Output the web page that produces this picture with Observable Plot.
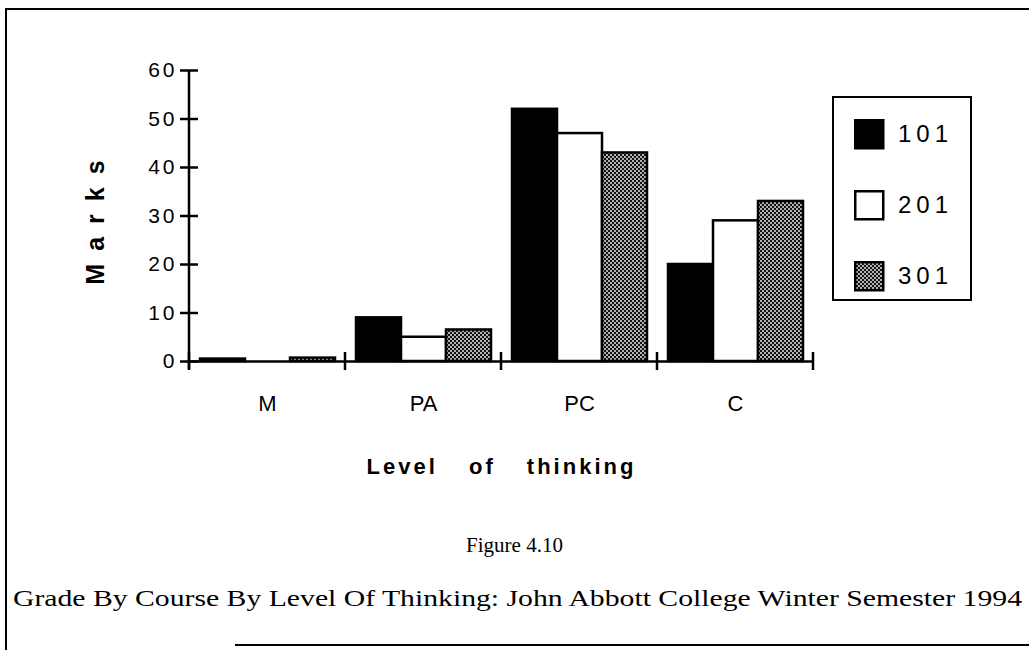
<!DOCTYPE html>
<html><head><meta charset="utf-8">
<script src="https://cdn.jsdelivr.net/npm/d3@7"></script>
<script src="https://cdn.jsdelivr.net/npm/@observablehq/plot@0.6"></script>
<style>
html,body{margin:0;padding:0;background:#fff;}
#page{position:relative;width:1029px;height:650px;overflow:hidden;background:#fff;}
#frame{position:absolute;left:5px;top:8px;width:1100px;height:700px;border-left:2px solid #000;border-top:2px solid #000;}
#bottomline{position:absolute;left:235px;top:644px;width:800px;height:0;border-top:2px solid #000;}
#chart{position:absolute;left:0;top:0;}
#legend{position:absolute;left:832px;top:96px;width:140px;height:205px;border:2.5px solid #000;box-sizing:border-box;background:#fff;}
.item{position:absolute;left:20px;height:30px;display:flex;align-items:center;font-family:"Liberation Sans",Arial,sans-serif;font-size:24px;letter-spacing:5px;color:#000;}
.item svg{margin-right:13px;}
#fig{position:absolute;top:533px;left:0;width:1029px;text-align:center;font-family:"Liberation Serif",serif;font-size:21px;color:#000;}
#cap{position:absolute;top:585px;left:13px;white-space:nowrap;font-family:"Liberation Serif",serif;font-size:24px;color:#000;transform-origin:0 0;}
#chart svg g[aria-label="y-axis tick label"] text{font-size:21px !important;letter-spacing:3px;}
#chart svg g[aria-label="fx-axis tick label"] text{font-size:22px !important;}
</style>
</head><body>
<svg width="0" height="0" style="position:absolute">
  <defs>
    <pattern id="stipple" width="4" height="4" patternUnits="userSpaceOnUse">
      <rect width="4" height="4" fill="#111"/>
      <circle cx="1" cy="1" r="0.9" fill="#fff"/>
      <circle cx="3" cy="3" r="0.9" fill="#fff"/>
    </pattern>
  </defs>
</svg>
<div id="page">
  <div id="frame"></div>
  <div id="bottomline"></div>
  <div id="chart"></div>
  <div id="legend"></div>
  <div id="fig">Figure 4.10</div>
  <div id="cap">Grade By Course By Level Of Thinking: John Abbott College Winter Semester 1994</div>
</div>
<script>
const levels = ["M", "PA", "PC", "C"];
const courses = ["101", "201", "301"];
const course101 = [0.5, 9, 52, 20];
const course201 = [0, 5, 47, 29];
const course301 = [0.7, 6.5, 43, 33];
const yTicks = [0, 10, 20, 30, 40, 50, 60];
const courseFills = ["#000", "#fff", "url(#stipple)"];

const series = [course101, course201, course301];
const data = levels.flatMap((level, i) => courses.map((course, j) => ({level, course, value: series[j][i]})));

const chart = Plot.plot({
  width: 1029, height: 480,
  marginLeft: 189, marginRight: 216, marginTop: 70, marginBottom: 119,
  style: {background: "transparent", fontFamily: "'Liberation Sans', Arial, sans-serif", color: "#000", overflow: "visible"},
  fx: {domain: levels, padding: 0},
  x: {domain: courses, paddingInner: 0, paddingOuter: 0.23, axis: null},
  y: {domain: [0, 60]},
  color: {domain: courses, range: courseFills},
  marks: [
    Plot.barY(data, {fx: "level", x: "course", y: "value", fill: "course", stroke: "#000", strokeWidth: 2.5}),
    Plot.ruleY([0], {stroke: "#000", strokeWidth: 2.5}),
    Plot.axisY({ticks: yTicks, tickSize: 18, dx: 9, tickPadding: 3, tickFormat: d => String(d), strokeWidth: 2.5,
      label: "Marks", labelAnchor: "center", labelArrow: "none", labelOffset: 103}),
    Plot.axisFx({anchor: "bottom", tickSize: 0, tickPadding: 34, label: "Level of thinking", labelAnchor: "center", labelArrow: "none", labelOffset: 112})
  ]
});
document.getElementById("chart").appendChild(chart);

const svg = d3.select(chart);
svg.selectAll('g[aria-label="y-axis tick label"] text').attr("font-size", 21);
svg.selectAll('g[aria-label="fx-axis tick label"] text').attr("font-size", 22);
svg.selectAll('g[aria-label="y-axis label"] text').style("font-weight", "bold").style("font-size", "25px").style("letter-spacing", "13px");
svg.selectAll('g[aria-label="fx-axis label"] text').style("font-weight", "bold").style("font-size", "22px").style("letter-spacing", "3px").style("word-spacing", "22px");

// axis line and category boundary ticks, from the plot's own scales
const fx = chart.scale("fx"), y = chart.scale("y");
const y0 = y.apply(0), yTop = y.apply(60);
const xLeft = fx.apply(levels[0]);
const g = svg.append("g").attr("stroke", "#000").attr("stroke-width", 2.5);
g.append("line").attr("x1", xLeft).attr("x2", xLeft).attr("y1", yTop).attr("y2", y0 + 8);
const edges = levels.map(l => fx.apply(l)).concat([fx.apply(levels[levels.length - 1]) + fx.bandwidth]);
edges.forEach(x => g.append("line").attr("x1", x).attr("x2", x).attr("y1", y0 - 9).attr("y2", y0 + 9));

// legend
const legend = document.getElementById("legend");
const tops = [21, 92, 163];
courses.forEach((c, i) => {
  const item = document.createElement("div");
  item.className = "item";
  item.style.top = tops[i] + "px";
  item.innerHTML = `<svg width="31" height="31"><rect x="1.25" y="1.25" width="28" height="28" fill="${courseFills[i]}" stroke="#000" stroke-width="2.5"/></svg><span>${c}</span>`;
  legend.appendChild(item);
});

// fit caption width to the reference line length
const cap = document.getElementById("cap");
const w = cap.getBoundingClientRect().width;
cap.style.transform = `scaleX(${1009 / w})`;
</script>
</body></html>
